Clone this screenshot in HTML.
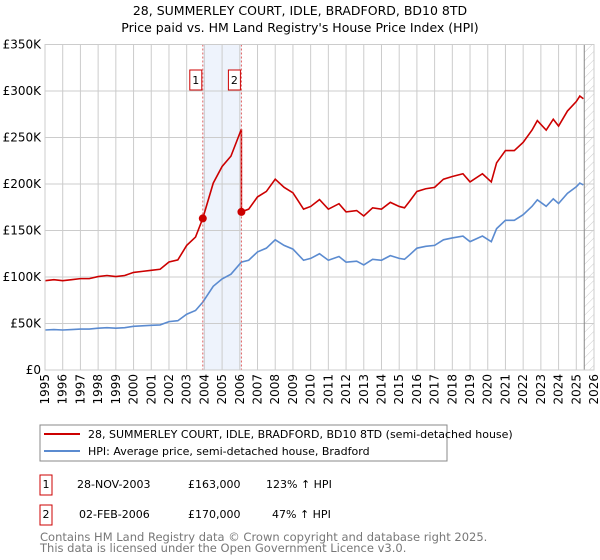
<!DOCTYPE html>
<html><head><meta charset="utf-8"><style>
body{margin:0;background:#fff;font-family:"DejaVu Sans","Liberation Sans",sans-serif;}
svg{display:block}
</style></head><body>
<svg id="c" width="600" height="560" xmlns="http://www.w3.org/2000/svg" font-family="DejaVu Sans, Liberation Sans, sans-serif">
<text x="300" y="15" text-anchor="middle" font-size="12.5" fill="#000">28, SUMMERLEY COURT, IDLE, BRADFORD, BD10 8TD</text>
<text x="300" y="32" text-anchor="middle" font-size="12.5" fill="#000">Price paid vs. HM Land Registry's House Price Index (HPI)</text>
<g id="grid"></g>
<g id="marks"></g>
<g id="axes"></g>
<rect x="40" y="425" width="407" height="36" fill="#fff" stroke="#888"/>
<line x1="44" y1="434" x2="80" y2="434" stroke="#cc0000" stroke-width="2"/>
<text x="88" y="438" font-size="11">28, SUMMERLEY COURT, IDLE, BRADFORD, BD10 8TD (semi-detached house)</text>
<line x1="44" y1="451" x2="80" y2="451" stroke="#5b8bd0" stroke-width="2"/>
<text x="88" y="455" font-size="11">HPI: Average price, semi-detached house, Bradford</text>
<g font-size="11">
<rect x="40" y="475" width="12" height="20" fill="#fff" stroke="#cc0000"/>
<text x="46" y="488" text-anchor="middle">1</text>
<text x="77" y="488">28-NOV-2003</text>
<text x="188" y="488">£163,000</text>
<text x="266" y="488">123% ↑ HPI</text>
<rect x="40" y="505" width="12" height="20" fill="#fff" stroke="#cc0000"/>
<text x="46" y="518" text-anchor="middle">2</text>
<text x="79" y="518">02-FEB-2006</text>
<text x="188" y="518">£170,000</text>
<text x="272" y="518">47% ↑ HPI</text>
</g>
<text x="40" y="541" font-size="11.5" fill="#777">Contains HM Land Registry data © Crown copyright and database right 2025.</text>
<text x="40" y="552" font-size="11.5" fill="#777">This data is licensed under the Open Government Licence v3.0.</text>
</svg>
<script>
const hpiYears=[1995,1995.5,1996,1996.5,1997,1997.5,1998,1998.5,1999,1999.5,2000,2000.5,2001,2001.5,2002,2002.5,2003,2003.5,2003.91,2004.5,2005,2005.5,2006.09,2006.5,2007,2007.5,2008,2008.5,2009,2009.3,2009.6,2010,2010.5,2011,2011.6,2012,2012.6,2013,2013.5,2014,2014.5,2015,2015.3,2015.6,2016,2016.5,2017,2017.5,2018,2018.6,2019,2019.7,2020.2,2020.5,2021,2021.5,2022,2022.5,2022.8,2023.3,2023.7,2024,2024.5,2025,2025.2,2025.4];
const hpiValues=[43,43.5,43,43.5,44,44,45,45.5,45,45.5,47,47.5,48,48.5,52,53,60,64,73,90,98,103,116,118,127,131,140,134,130,124,118,120,125,118,122,116,117,113,119,118,123,120,119,124,131,133,134,140,142,144,138,144,138,152,161,161,167,176,183,176,184,179,190,197,201,199];
const saleDates=[2003.91,2006.09];
const salePrices=[163,170];
const yTicks=[0,50,100,150,200,250,300,350];
const yTickLabels=["£0","£50K","£100K","£150K","£200K","£250K","£300K","£350K"];
const xTicks=[1995,1996,1997,1998,1999,2000,2001,2002,2003,2004,2005,2006,2007,2008,2009,2010,2011,2012,2013,2014,2015,2016,2017,2018,2019,2020,2021,2022,2023,2024,2025,2026];
const NS="http://www.w3.org/2000/svg";
const X0=45,X1=594,Y0=370,Y1=44.5;
const xs=t=>X0+(t-1995)/(2026-1995)*(X1-X0);
const ys=v=>Y0-v/350*(Y0-Y1);
function mk(tag,attrs,parent){const e=document.createElementNS(NS,tag);for(const k in attrs)e.setAttribute(k,attrs[k]);parent.appendChild(e);return e;}
const grid=document.getElementById('grid'),marks=document.getElementById('marks'),axes=document.getElementById('axes');
// shaded region between sales
const sh=mk('rect',{x:xs(saleDates[0]),y:Y1,width:xs(saleDates[1])-xs(saleDates[0]),height:Y0-Y1,fill:'#eef3fc'},grid);


// hatch region
const defs=mk('defs',{},grid);
const pat=mk('pattern',{id:'h',width:6,height:6,patternUnits:'userSpaceOnUse',patternTransform:'rotate(45)'},defs);
mk('line',{x1:0,y1:0,x2:0,y2:6,stroke:'#ccc','stroke-width':1},pat);
const hx=xs(2025.45);
const hr=mk('rect',{x:hx,y:Y1,width:X1-hx,height:Y0-Y1,fill:'url(#h)'},grid);


yTicks.forEach((v,i)=>{
  const l=mk('line',{x1:X0,x2:X1,y1:ys(v),y2:ys(v),stroke:'#ccc'},grid);
  
  
  const t=mk('text',{x:X0-4,y:ys(v)+4,'text-anchor':'end','font-size':12},axes);
  t.textContent=yTickLabels[i];
  
  
});
xTicks.forEach(y=>{
  const l=mk('line',{x1:xs(y),x2:xs(y),y1:Y1,y2:Y0,stroke:'#ccc'},grid);
  
  
  const t=mk('text',{x:0,y:0,'text-anchor':'end','font-size':12,transform:`translate(${xs(y)+4},${Y0+4}) rotate(-90)`},axes);
  t.textContent=y;
  
  
});
const vl=mk('line',{x1:hx,x2:hx,y1:Y1,y2:Y0,stroke:'#888'},grid);


function hpiAt(t){for(let i=0;i<hpiYears.length-1;i++){if(t>=hpiYears[i]&&t<=hpiYears[i+1]){const f=(t-hpiYears[i])/(hpiYears[i+1]-hpiYears[i]);return hpiValues[i]+f*(hpiValues[i+1]-hpiValues[i]);}}return hpiValues[hpiValues.length-1];}
// property line: HPI scaled from most recent sale
const r0=salePrices[0]/hpiAt(saleDates[0]),r1=salePrices[1]/hpiAt(saleDates[1]);
let redPts=[];
hpiYears.forEach((t,i)=>{
  if(t<saleDates[1]) redPts.push([t,hpiValues[i]*r0]);
  else {
    if(t===saleDates[1]) redPts.push([t,hpiValues[i]*r0]);
    redPts.push([t,hpiValues[i]*r1]);
  }
});
const bp=mk('polyline',{points:hpiYears.map((t,i)=>xs(t)+','+ys(hpiValues[i])).join(' '),fill:'none',stroke:'#5b8bd0','stroke-width':1.6},marks);


const rp=mk('polyline',{points:redPts.map(p=>xs(p[0])+','+ys(p[1])).join(' '),fill:'none',stroke:'#cc0000','stroke-width':1.6},marks);


saleDates.forEach((d,i)=>{
  const l=mk('line',{x1:xs(d),x2:xs(d),y1:Y1,y2:Y0,stroke:'#e06060','stroke-dasharray':'2,2'},marks);
  
  
  const c=mk('circle',{cx:xs(d),cy:ys(salePrices[i]),r:4,fill:'#cc0000'},marks);
  
  
  const b=mk('rect',{x:xs(d)-13,y:70,width:12,height:20,fill:'#fff',stroke:'#cc0000'},marks);
  
  
  const t=mk('text',{x:xs(d)-7,y:84,'text-anchor':'middle','font-size':11},marks);
  t.textContent=String(i+1);
  
  
});
const bx=mk('rect',{x:X0,y:Y1,width:X1-X0,height:Y0-Y1,fill:'none',stroke:'#ccc'},axes);


</script>
</body></html>
